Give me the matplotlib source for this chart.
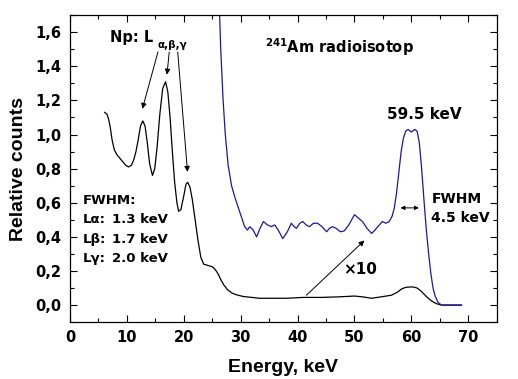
import numpy as np
import matplotlib
matplotlib.use('Agg')
import matplotlib.pyplot as plt
from matplotlib.ticker import MultipleLocator, FuncFormatter

plt.rcParams['font.family'] = ['DejaVu Sans']
plt.rcParams['font.weight'] = 'bold'
plt.rcParams['mathtext.default'] = 'bf'

# measured spectrum (relative counts)
e_meas = [6.1, 6.5, 6.8, 7.1, 7.4, 7.8, 8.3, 8.8, 9.3, 9.8, 10.3, 10.8, 11.2, 11.6,
          12.0, 12.4, 12.8, 13.2, 13.6, 14.0, 14.5, 14.9, 15.3, 15.8, 16.3, 16.8,
          17.2, 17.6, 18.0, 18.4, 18.8, 19.1, 19.5, 20.0, 20.4, 20.7, 21.1, 21.5,
          22.0, 22.5, 23.0, 23.5, 24.0, 25.0, 25.5, 26.0, 26.5, 27.0, 27.7, 28.5,
          29.3, 30.5, 32.0, 33.3, 35.0, 38.0, 41.0, 44.0, 47.0, 50.0, 51.5, 53.0,
          55.0, 56.5, 57.5, 58.3, 59.0, 59.6, 60.4, 61.0, 61.6, 62.2, 62.8, 63.4,
          64.0, 64.6, 65.3, 68.8]
c_meas = [1.13, 1.12, 1.09, 1.04, 0.97, 0.91, 0.88, 0.86, 0.84, 0.82, 0.81, 0.82, 0.85, 0.90,
          0.97, 1.05, 1.08, 1.05, 0.95, 0.83, 0.76, 0.80, 0.92, 1.12, 1.27, 1.31,
          1.25, 1.10, 0.90, 0.72, 0.60, 0.55, 0.56, 0.64, 0.71, 0.72, 0.69, 0.62,
          0.50, 0.38, 0.28, 0.24, 0.235, 0.225, 0.21, 0.185, 0.15, 0.12, 0.09, 0.07,
          0.06, 0.05, 0.045, 0.04, 0.04, 0.04, 0.045, 0.045, 0.048, 0.053, 0.048, 0.04,
          0.05, 0.058, 0.075, 0.095, 0.104, 0.106, 0.106, 0.10, 0.085, 0.065, 0.045, 0.028,
          0.015, 0.006, 0.0, 0.0]

# same spectrum x10
e_x10 = [26.2, 26.5, 26.9, 27.3, 27.8, 28.4, 29.0, 29.6, 30.1, 30.7, 31.2, 31.6, 32.2,
         32.8, 33.4, 34.0, 34.7, 35.4, 36.0, 36.6, 37.4, 38.2, 38.9, 39.4, 39.8, 40.4,
         40.9, 41.5, 42.1, 42.8, 43.5, 44.3, 45.1, 45.6, 46.1, 46.8, 47.5, 48.2, 49.0,
         50.0, 50.7, 51.4, 52.2, 53.0, 53.6, 54.1, 54.9, 55.5, 56.1, 56.6, 57.0, 57.4,
         57.8, 58.2, 58.6, 59.0, 59.4, 60.0, 60.6, 61.0, 61.4, 61.8, 62.2, 62.6, 63.0,
         63.4, 63.8, 64.2, 64.7, 65.3, 68.8]
c_x10 = [1.80, 1.50, 1.21, 1.00, 0.82, 0.70, 0.63, 0.57, 0.52, 0.46, 0.44, 0.46, 0.44,
         0.40, 0.45, 0.49, 0.47, 0.46, 0.47, 0.44, 0.39, 0.43, 0.48, 0.46, 0.45, 0.48,
         0.49, 0.47, 0.46, 0.48, 0.48, 0.46, 0.43, 0.45, 0.46, 0.45, 0.43, 0.435, 0.47,
         0.53, 0.51, 0.49, 0.45, 0.42, 0.44, 0.46, 0.49, 0.48, 0.49, 0.52, 0.57, 0.66,
         0.78, 0.90, 0.98, 1.02, 1.03, 1.015, 1.03, 1.02, 0.95, 0.80, 0.62, 0.45, 0.31,
         0.19, 0.10, 0.05, 0.015, 0.0, 0.0]

fig = plt.figure(figsize=(5.18, 3.79), dpi=100)
ax = fig.add_axes([0.135, 0.150, 0.824, 0.810])

ax.plot(e_meas, c_meas, color='black', lw=0.9)
ax.plot(e_x10, c_x10, color='#1a1a9a', lw=0.9)

ax.set_xlim(0, 75)
ax.set_ylim(-0.1, 1.7)
ax.xaxis.set_major_locator(MultipleLocator(10))
ax.xaxis.set_minor_locator(MultipleLocator(5))
ax.yaxis.set_major_locator(MultipleLocator(0.2))
ax.yaxis.set_minor_locator(MultipleLocator(0.1))
ax.yaxis.set_major_formatter(FuncFormatter(lambda v, p: f'{v:.1f}'.replace('.', ',')))
ax.tick_params(which='both', direction='in', top=True, right=True, width=0.8)
ax.tick_params(which='major', length=5, labelsize=10.5, pad=6)
ax.tick_params(which='minor', length=3)
for s in ax.spines.values():
    s.set_linewidth(0.9)

lab = dict(fontsize=14, fontweight='bold', family='Liberation Sans')
ax.set_xlabel('Energy, keV', labelpad=10, **lab)
ax.set_ylabel('Relative counts', labelpad=6, **lab)

# annotations
ax.text(7.0, 1.54, 'Np: L', fontsize=10.5, fontweight='bold')
ax.text(15.3, 1.505, '\u03b1,\u03b2,\u03b3', fontsize=7.5, fontweight='bold')
arr = dict(arrowstyle='-|>', color='black', lw=0.7, mutation_scale=8)
ax.annotate('', xy=(12.6, 1.135), xytext=(15.6, 1.5), arrowprops=arr)
ax.annotate('', xy=(17.0, 1.335), xytext=(17.5, 1.5), arrowprops=arr)
ax.annotate('', xy=(20.7, 0.765), xytext=(18.9, 1.5), arrowprops=arr)

ax.text(34.2, 1.48, r'$^{241}$Am radioisotop', fontsize=10.5, fontweight='bold')
ax.text(55.8, 1.09, '59.5 keV', fontsize=11, fontweight='bold')

fw = dict(fontsize=9.5, fontweight='bold')
ax.text(2.2, 0.59, 'FWHM:', **fw)
ax.text(2.2, 0.48, 'L\u03b1:', **fw)
ax.text(7.4, 0.48, '1.3 keV', **fw)
ax.text(2.2, 0.365, 'L\u03b2:', **fw)
ax.text(7.4, 0.365, '1.7 keV', **fw)
ax.text(2.2, 0.25, 'L\u03b3:', **fw)
ax.text(7.4, 0.25, '2.0 keV', **fw)

ax.text(63.5, 0.6, 'FWHM', fontsize=10, fontweight='bold')
ax.text(63.5, 0.49, '4.5 keV', fontsize=10, fontweight='bold')
ax.annotate('', xy=(57.6, 0.57), xytext=(61.8, 0.57),
            arrowprops=dict(arrowstyle='<|-|>', color='black', lw=0.7, mutation_scale=6))

ax.annotate('', xy=(52.1, 0.39), xytext=(41.2, 0.047), arrowprops=arr)
ax.text(48.0, 0.18, '\u00d710', fontsize=11, fontweight='bold')

fig.savefig('out.png', dpi=100)
